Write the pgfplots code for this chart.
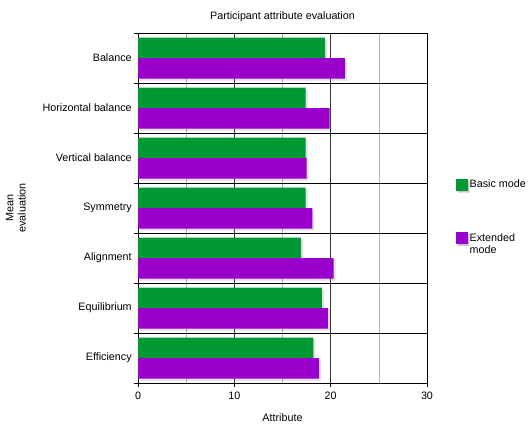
\documentclass[border=0pt]{standalone}
\usepackage{fontspec}
\setmainfont{Liberation Sans}
\usepackage{pgfplots}
\pgfplotsset{compat=1.18}
\usetikzlibrary{shadows}

\definecolor{basic}{RGB}{0,153,51}
\definecolor{extended}{RGB}{153,0,204}

\begin{document}
\fontsize{10.8}{12.5}\selectfont
\begin{tikzpicture}
\useasboundingbox (0,0) rectangle (530bp,425bp);

\begin{axis}[%
at={(138bp,42bp)},
anchor=south west,
width=289bp,
height=350bp,
scale only axis,
xbar,
xmin=0,
xmax=30,
ymin=-0.5,
ymax=6.5,
xtick={0,10,20,30},
minor xtick={5,15,25},
ytick={0,1,2,3,4,5,6},
yticklabels={Efficiency,Equilibrium,Alignment,Symmetry,Vertical balance,Horizontal balance,Balance},
minor ytick={-0.5,0.5,1.5,2.5,3.5,4.5,5.5,6.5},
tick align=outside,
tick pos=left,
major y tick style={draw=none},
minor x tick style={draw=none},
major tick length=4bp,
minor tick length=4bp,
every tick/.style={black, line width=0.6pt},
yticklabel style={xshift=1.5bp},
xticklabel style={yshift=-1bp},
xmajorgrids,
xminorgrids,
yminorgrids,
major x grid style={black!80, line width=0.6pt},
minor x grid style={black!30, line width=0.6pt},
minor y grid style={black, line width=0.6pt},
axis line style={black, line width=0.6pt},
/pgf/number format/assume math mode=true,
title={Participant attribute evaluation},
title style={yshift=2bp},
xlabel={Attribute},
xlabel style={yshift=-7bp},
ylabel={Mean\\evaluation},
ylabel style={align=center, at={(axis description cs:-0.375,0.5)}},
legend style={at={(1.088,0.592)}, anchor=north west, draw=none, fill=none,
  legend cell align=left, row sep=40bp,
  nodes={align=left, inner sep=2bp}},
]
\addplot[xbar, bar width=0.41, bar shift=0.205, fill=basic, draw=none,
  drop shadow={shadow xshift=2bp, shadow yshift=-2bp, opacity=0.25},
  legend image code/.code={%
    \fill[basic, drop shadow={shadow xshift=1.5bp, shadow yshift=-1.5bp, opacity=0.25}] (0bp,-6bp) rectangle (12bp,6bp);}]
coordinates {(18.2,0) (19.1,1) (16.9,2) (17.4,3) (17.4,4) (17.4,5) (19.4,6)};
\addlegendentry{Basic mode}

\addplot[xbar, bar width=0.41, bar shift=-0.205, fill=extended, draw=none,
  drop shadow={shadow xshift=2bp, shadow yshift=-2bp, opacity=0.25},
  legend image code/.code={%
    \fill[extended, drop shadow={shadow xshift=1.5bp, shadow yshift=-1.5bp, opacity=0.25}] (0bp,0bp) rectangle (12bp,12bp);}]
coordinates {(18.8,0) (19.7,1) (20.3,2) (18.1,3) (17.5,4) (19.9,5) (21.5,6)};
\addlegendentry{Extended\\mode}

\end{axis}
\end{tikzpicture}
\end{document}
